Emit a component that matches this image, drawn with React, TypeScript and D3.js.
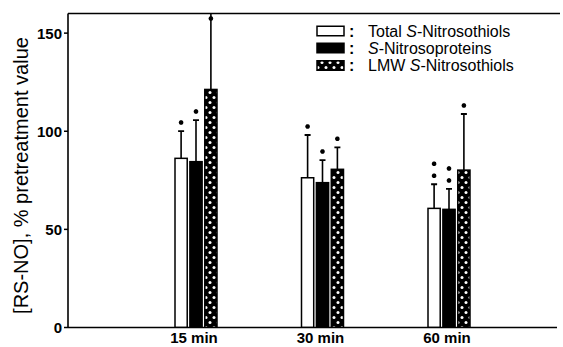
import React, { useEffect, useRef } from "react";
import * as d3 from "d3";

const categories = ["15 min", "30 min", "60 min"];
const seriesNames = ["Total S-Nitrosothiols", "S-Nitrosoproteins", "LMW S-Nitrosothiols"];
const totalMeans = [86.2, 76.3, 60.7];
const totalSD = [13.9, 21.8, 12.3];
const proteinMeans = [84.5, 73.8, 60.2];
const proteinSD = [21.2, 11.5, 10.4];
const lmwMeans = [121.3, 80.6, 80.2];
const lmwSD = [42, 11.2, 28.6];
const totalStars = [1, 1, 2];
const proteinStars = [1, 1, 2];
const lmwStars = [1, 1, 1];
const yTicks = [0, 50, 100, 150];
const yMax = 160;

const W = 563, H = 347;
const M = { left: 68, top: 13.5, right: 557, bottom: 327.5 };
const FONT = "'Liberation Sans', Arial, Helvetica, sans-serif";

export default function App() {
  const ref = useRef<SVGSVGElement>(null);
  useEffect(() => {
    const svg = d3.select(ref.current);
    svg.selectAll("*").remove();

    const defs = svg.append("defs");
    const pat = defs.append("pattern").attr("id", "dots").attr("patternUnits", "userSpaceOnUse")
      .attr("width", 8).attr("height", 10);
    pat.append("rect").attr("width", 8).attr("height", 10).attr("fill", "#000");
    pat.append("circle").attr("cx", 2).attr("cy", 2.5).attr("r", 1.5).attr("fill", "#fff");
    pat.append("circle").attr("cx", 6).attr("cy", 7.5).attr("r", 1.5).attr("fill", "#fff");
    defs.append("clipPath").attr("id", "plotclip").append("rect")
      .attr("x", M.left).attr("y", M.top).attr("width", M.right - M.left + 5).attr("height", M.bottom - M.top);

    const y = d3.scaleLinear().domain([0, yMax]).range([M.bottom, M.top]);
    const x0 = d3.scalePoint<string>().domain(categories).range([196, 449]);
    const x1 = d3.scaleBand<number>().domain([0, 1, 2]).range([-21, 21]).paddingInner(0.18);

    const series = [
      { means: totalMeans, sd: totalSD, stars: totalStars, fill: "#fff" },
      { means: proteinMeans, sd: proteinSD, stars: proteinStars, fill: "#000" },
      { means: lmwMeans, sd: lmwSD, stars: lmwStars, fill: "url(#dots)" },
    ];

    const g = svg.append("g").attr("clip-path", "url(#plotclip)");
    series.forEach((s, si) => {
      categories.forEach((c, ci) => {
        const bx = (x0(c) as number) + (x1(si) as number);
        const bw = x1.bandwidth();
        const cx = bx + bw / 2;
        const top = y(s.means[ci]);
        const etop = y(s.means[ci] + s.sd[ci]);
        g.append("line").attr("x1", cx).attr("x2", cx).attr("y1", top).attr("y2", etop)
          .attr("stroke", "#000").attr("stroke-width", 1.6);
        g.append("line").attr("x1", cx - 3).attr("x2", cx + 3).attr("y1", etop).attr("y2", etop)
          .attr("stroke", "#000").attr("stroke-width", 1.8);
        g.append("rect").attr("x", bx).attr("y", top).attr("width", bw).attr("height", M.bottom - top)
          .attr("fill", s.fill).attr("stroke", "#000").attr("stroke-width", 1.5);
        for (let k = 0; k < s.stars[ci]; k++) {
          const sy = Math.max(etop - 8.5 - k * 12, M.top + 5);
          g.append("path").attr("d", d3.symbol(d3.symbolAsterisk, 14)() as string)
            .attr("transform", `translate(${cx},${sy})`)
            .attr("fill", "none").attr("stroke", "#000").attr("stroke-width", 2);
          g.append("circle").attr("cx", cx).attr("cy", sy).attr("r", 1.6).attr("fill", "#000");
        }
      });
    });

    // axes
    svg.append("line").attr("x1", M.left).attr("x2", M.left).attr("y1", M.top).attr("y2", M.bottom)
      .attr("stroke", "#000").attr("stroke-width", 1.6);
    svg.append("line").attr("x1", M.left).attr("x2", M.right).attr("y1", M.bottom).attr("y2", M.bottom)
      .attr("stroke", "#000").attr("stroke-width", 1.6);
    svg.append("line").attr("x1", M.left).attr("x2", 560).attr("y1", M.top).attr("y2", M.top)
      .attr("stroke", "#000").attr("stroke-width", 1.6);

    yTicks.forEach(t => {
      svg.append("line").attr("x1", M.left - 4).attr("x2", M.left).attr("y1", y(t)).attr("y2", y(t))
        .attr("stroke", "#000").attr("stroke-width", 1.5);
      svg.append("text").attr("x", M.left - 6).attr("y", y(t)).attr("dy", "0.36em")
        .attr("text-anchor", "end").attr("font-family", FONT).attr("font-size", 15).attr("font-weight", "bold")
        .text(String(t));
    });

    categories.forEach(c => {
      svg.append("text").attr("x", (x0(c) as number) - 2).attr("y", 343)
        .attr("text-anchor", "middle").attr("font-family", FONT).attr("font-size", 15).attr("font-weight", "bold")
        .text(c);
    });

    svg.append("text").attr("transform", `translate(28,${(M.top + M.bottom) / 2 + 5}) rotate(-90)`)
      .attr("text-anchor", "middle").attr("font-family", FONT).attr("font-size", 20)
      .text("[RS-NO], % pretreatment value");

    // legend
    const legY = [31, 48, 65.5];
    seriesNames.forEach((name, i) => {
      svg.append("rect").attr("x", 317).attr("y", legY[i] - 4.75).attr("width", 27).attr("height", 9.5)
        .attr("fill", series[i].fill).attr("stroke", "#000").attr("stroke-width", 1.5);
      svg.append("text").attr("x", 349).attr("y", legY[i]).attr("dy", "0.35em")
        .attr("font-family", FONT).attr("font-size", 16).attr("font-weight", "bold").text(":");
      const t = svg.append("text").attr("x", 368).attr("y", legY[i]).attr("dy", "0.35em")
        .attr("font-family", FONT).attr("font-size", 16);
      const parts = name.split("S-");
      if (parts.length === 2) {
        if (parts[0]) t.append("tspan").text(parts[0]);
        t.append("tspan").attr("font-style", "italic").text("S");
        t.append("tspan").text("-" + parts[1]);
      } else t.text(name);
    });
  }, []);
  return (
    <svg ref={ref} width={W} height={H} style={{ position: "absolute", left: 0, top: 0, background: "#fff" }} />
  );
}
